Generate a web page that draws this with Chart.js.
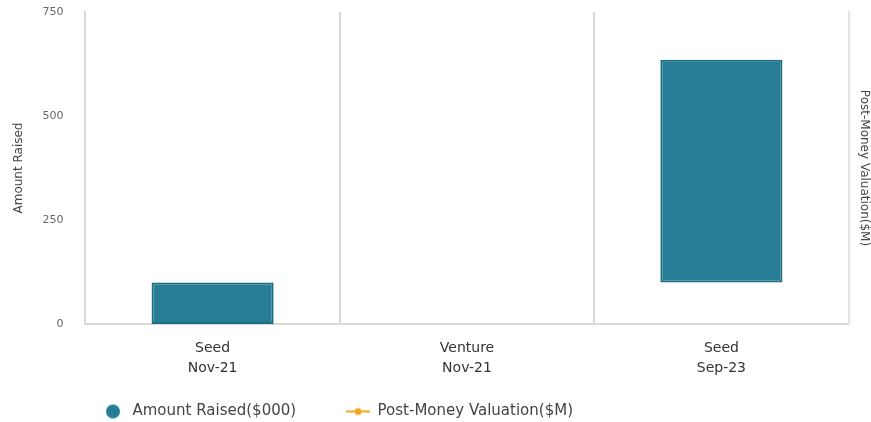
<!DOCTYPE html>
<html>
<head>
<meta charset="utf-8">
<script src="https://cdn.jsdelivr.net/npm/chart.js@4"></script>
<style>
  html, body { margin: 0; padding: 0; background: #fff; }
  #wrap { width: 871px; height: 422px; }
</style>
</head>
<body>
<div id="wrap"><canvas id="fundingChart"></canvas></div>
<script>
const rounds = [["Seed", "Nov-21"], ["Venture", "Nov-21"], ["Seed", "Sep-23"]];
const amountRaised = [[0, 100], null, [100, 635]];
const postMoney = [null, null, null];
const yTicks = [0, 250, 500, 750];

const font = "DejaVu Sans";
const teal = "#267d95";
const orange = "#f5a623";

// little legend markers: a dot, and a line with a dot
function dotMarker() {
  const c = document.createElement("canvas");
  c.width = 16; c.height = 16;
  const g = c.getContext("2d");
  g.fillStyle = teal;
  g.beginPath(); g.arc(8, 8, 7, 0, Math.PI * 2); g.fill();
  return c;
}
function lineMarker() {
  const c = document.createElement("canvas");
  c.width = 24; c.height = 10;
  const g = c.getContext("2d");
  g.strokeStyle = orange; g.lineWidth = 2;
  g.beginPath(); g.moveTo(0, 5); g.lineTo(24, 5); g.stroke();
  g.fillStyle = orange;
  g.beginPath(); g.arc(12, 5, 3.5, 0, Math.PI * 2); g.fill();
  return c;
}

// keep the legend short and put it where the reference has it
const legendPlace = {
  id: "legendPlace",
  afterInit(chart) {
    const lg = chart.legend;
    const fit = lg.fit.bind(lg);
    lg.fit = () => { fit(); lg.height = 44; };
  },
  afterLayout(chart) {
    const lg = chart.legend;
    lg.left = 51;
    lg.top = 354;
  },
};

const config = {
  type: "bar",
  data: {
    labels: rounds,
    datasets: [
      {
        label: "Amount Raised($000)",
        data: amountRaised,
        backgroundColor: teal,
        borderColor: "#1b6e82",
        borderWidth: 2,
        borderSkipped: false,
        barPercentage: 0.6,
        categoryPercentage: 0.8,
        yAxisID: "y",
      },
      {
        type: "line",
        label: "Post-Money Valuation($M)",
        data: postMoney,
        borderColor: orange,
        backgroundColor: orange,
        pointRadius: 3,
        yAxisID: "y1",
      },
    ],
  },
  options: {
    responsive: true,
    maintainAspectRatio: false,
    animation: false,
    layout: { padding: { top: 0, right: 0, left: 10, bottom: 0 } },
    scales: {
      x: {
        afterFit: (axis) => { axis.height = 54; },
        grid: { color: "#dcd8d4", lineWidth: 2, drawTicks: false },
        border: { color: "#dcd8d4", width: 2 },
        ticks: { color: "#333", font: { family: font, size: 14, lineHeight: 1.4 }, padding: 15 },
      },
      y: {
        position: "left",
        min: 0,
        max: 750,
        afterBuildTicks: (axis) => { axis.ticks = yTicks.map((v) => ({ value: v })); },
        afterFit: (axis) => { axis.paddingTop = 12; axis.paddingBottom = 6; },
        grid: { display: false },
        border: { color: "#dcd8d4", width: 2 },
        ticks: { color: "#666", font: { family: font, size: 11 }, padding: 14 },
        title: { display: true, text: "Amount Raised", color: "#444", font: { family: font, size: 12 }, padding: 2 },
      },
      y1: {
        position: "right",
        min: 0,
        max: 1,
        grid: { display: false },
        border: { color: "#e6e3e0", width: 2 },
        ticks: { display: false },
        title: { display: true, text: "Post-Money Valuation($M)", color: "#444", font: { family: font, size: 12 }, padding: 0 },
      },
    },
    plugins: {
      legend: {
        position: "bottom",
        align: "start",
        fullSize: false,
        labels: {
          usePointStyle: true,
          pointStyleWidth: 24,
          color: "#444",
          font: { family: font, size: 15 },
          padding: 50,
          boxHeight: 10,
          generateLabels: (chart) => {
            const items = Chart.defaults.plugins.legend.labels.generateLabels(chart);
            items.sort((a, b) => a.datasetIndex - b.datasetIndex);
            items[0].pointStyle = dotMarker();
            items[1].pointStyle = lineMarker();
            return items;
          },
        },
      },
      tooltip: { enabled: false },
    },
  },
  plugins: [legendPlace],
};

new Chart(document.getElementById("fundingChart"), config);
</script>
</body>
</html>
